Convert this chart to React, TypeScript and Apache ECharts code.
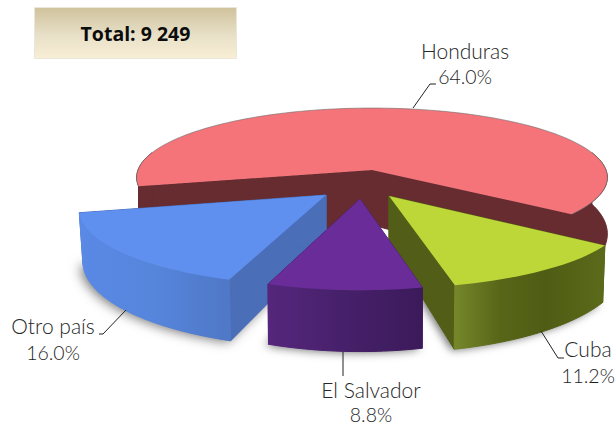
import React, { useEffect, useRef } from "react";
import * as echarts from "echarts";

const categories = ["Honduras", "Cuba", "El Salvador", "Otro país"];
const shares = [64.0, 11.2, 8.8, 16.0];
const totalLabel = "Total: 9 249";

const FIRST_ANGLE = 166.6;
const drawOrder = [0, 3, 1, 2];

const looks = [
  { x: 372, y: 170, a: 234, b: 68.6, k: 0.107, h: 55, as: 1.0, bs: 1.2, top: "#f4747a", side: "#662c30",
    wall: null, edge: "rgba(110,110,110,0.6)", shadow: 0 },
  { x: 389, y: 196, a: 233, b: 71, k: 0.229, h: 48, as: 0.99, bs: 1.18, top: "#bdd638", side: "#525e17",
    wall: [[0, "#76872a"], [0.3, "#586618"], [0.6, "#4f5c14"], [1, "#5b6a1a"]], edge: "rgba(0,0,0,0)", shadow: 8 },
  { x: 360, y: 199, a: 229, b: 73, k: 0.2, h: 44, as: 0.995, bs: 1.19, top: "#6a2c98", side: "#4a2070",
    wall: [[0, "#55267c"], [0.5, "#46206a"], [1, "#3c1a5a"]], edge: "rgba(0,0,0,0)", shadow: 10 },
  { x: 326, y: 195, a: 242, b: 73, k: 0.197, h: 50, as: 0.985, bs: 1.13, top: "#5f90f0", side: "#4a6eb8",
    wall: [[0, "#5a89e6"], [0.5, "#5685dc"], [1, "#4f78c6"]], edge: "rgba(0,0,0,0)", shadow: 12 },
];

const labelLook = [
  { cx: 465, y1: 50, y2: 76.5, line: [[413, 108], [430, 84], [436, 84]] },
  { cx: 588, y1: 348, y2: 375, line: [[541, 331], [558, 358], [564, 358]] },
  { cx: 371, y1: 389, y2: 414, line: [[343, 352], [343, 376]] },
  { cx: 53, y1: 325, y2: 352, line: [[126, 310], [103, 334], [99, 334]] },
];

const LABEL_FONT = '300 21px "Lato", sans-serif';
const SHARE_FONT = '300 19.5px "Lato", sans-serif';
const TOTAL_FONT = '700 19.5px "Open Sans", sans-serif';

function project(g: any, deg: number, lower: boolean): number[] {
  const r = (deg * Math.PI) / 180;
  const c = Math.cos(r);
  const s = Math.sin(r);
  const d = 1 - g.k * s;
  if (lower) return [g.x + (g.a * g.as * c) / d, g.y + g.h + (g.b * g.bs * s) / d];
  return [g.x + (g.a * c) / d, g.y + (g.b * s) / d];
}

function arc(g: any, from: number, to: number, lower: boolean): number[][] {
  const pts: number[][] = [];
  const n = Math.max(2, Math.ceil(Math.abs(to - from) / 2));
  for (let i = 0; i <= n; i++) pts.push(project(g, from + ((to - from) * i) / n, lower));
  return pts;
}

function sliceAngles(index: number): number[] {
  let start = FIRST_ANGLE;
  for (let i = 0; i < index; i++) start += shares[i] * 3.6;
  return [start, start + shares[index] * 3.6];
}

function renderSlice(_params: any, api: any) {
  const index = api.value(0) as number;
  const g = looks[index];
  const [start, end] = sliceAngles(index);
  const children: any[] = [];
  const tipTop = [g.x, g.y];
  const tipLow = [g.x, g.y + g.h];

  if (g.shadow) {
    children.push({
      type: "polygon",
      shape: { points: [tipLow, ...arc(g, start, end, true)] },
      style: { fill: "#777", shadowBlur: g.shadow, shadowColor: "rgba(0,0,0,0.55)", shadowOffsetX: -3, shadowOffsetY: 1 },
    });
  }
  for (const deg of [start, end]) {
    children.push({
      type: "polygon",
      shape: { points: [tipTop, project(g, deg, false), project(g, deg, true), tipLow] },
      style: { fill: g.side, stroke: g.side, lineWidth: 1 },
    });
  }
  for (const shift of [0, 360]) {
    const from = Math.max(start, -15 + shift);
    const to = Math.min(end, 195 + shift);
    if (to > from) {
      const fill = g.wall
        ? new echarts.graphic.LinearGradient(0, 0, 1, 0, g.wall.map((w: any) => ({ offset: w[0], color: w[1] })))
        : g.side;
      children.push({
        type: "polygon",
        shape: { points: [...arc(g, from, to, false), ...arc(g, to, from, true)] },
        style: { fill, stroke: fill, lineWidth: 1 },
      });
    }
  }
  const rim = arc(g, start, end, false);
  children.push({ type: "polygon", shape: { points: [tipTop, ...rim] }, style: { fill: g.top } });
  children.push({ type: "polyline", shape: { points: rim }, style: { fill: "none", stroke: g.edge, lineWidth: 1 } });

  const lab = labelLook[index];
  children.push({ type: "polyline", shape: { points: lab.line }, style: { fill: "none", stroke: "#222", lineWidth: 1 } });
  children.push({ type: "text", style: { text: categories[index], x: lab.cx, y: lab.y1, align: "center", verticalAlign: "middle", font: LABEL_FONT, fill: "#262626" } });
  children.push({ type: "text", style: { text: shares[index].toFixed(1) + "%", x: lab.cx, y: lab.y2, align: "center", verticalAlign: "middle", font: SHARE_FONT, fill: "#1e1e1e" } });
  return { type: "group", children };
}

export default function App() {
  const ref = useRef<HTMLDivElement>(null);
  useEffect(() => {
    document.body.style.margin = "0";
    const chart = echarts.init(ref.current!, undefined, { renderer: "svg" });
    chart.setOption({
      animation: false,
      backgroundColor: "#ffffff",
      graphic: [
        {
          type: "rect",
          z: 10,
          shape: { x: 34.5, y: 7.5, width: 202, height: 51 },
          style: {
            fill: new echarts.graphic.LinearGradient(0, 0, 0, 1, [
              { offset: 0, color: "#cfc29c" },
              { offset: 0.55, color: "#e8e0c8" },
              { offset: 1, color: "#f9eed6" },
            ]),
            stroke: "#ebe6da",
            lineWidth: 1,
          },
        },
        {
          type: "text",
          z: 11,
          style: { text: totalLabel, x: 135.5, y: 33, align: "center", verticalAlign: "middle", font: TOTAL_FONT, fill: "#0c0c0c" },
        },
      ],
      series: [
        {
          type: "custom",
          coordinateSystem: "none",
          silent: true,
          clip: false,
          renderItem: renderSlice,
          data: drawOrder.map((i) => [i]),
        },
      ],
    });
    return () => chart.dispose();
  }, []);
  return <div ref={ref} style={{ width: 615, height: 424, position: "absolute", left: 0, top: 0 }} />;
}
